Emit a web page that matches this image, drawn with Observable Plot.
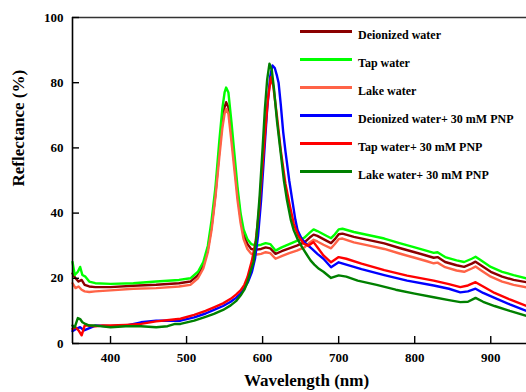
<!DOCTYPE html>
<html><head><meta charset="utf-8">
<script src="https://cdn.jsdelivr.net/npm/d3@7"></script>
<script src="https://cdn.jsdelivr.net/npm/@observablehq/plot@0.6"></script>
<style>
body{margin:0;background:#fff;overflow:hidden;}
#wrap{position:relative;width:526px;height:392px;}
#wrap svg text{font-family:"Liberation Serif",serif;font-weight:bold;}
#legend{position:absolute;left:300px;top:21px;font:bold 12px "Liberation Serif",serif;color:#000;}
.row{height:28px;display:flex;align-items:center;white-space:nowrap;}
.sw{width:52px;height:3px;margin-right:6px;position:relative;top:-4px;}
</style></head><body><div id="wrap"><div id="legend"></div></div>
<script>
const seriesNames = ["Deionized water","Tap water","Lake water","Deionized water+ 30 mM PNP","Tap water+ 30 mM PNP","Lake water+ 30 mM PNP"];
const seriesColors = ["#8b0000","#00ff00","#ff6347","#0000ff","#ff0000","#008000"];

const deionizedWater = [[350,21.5],[354,20],[358,19],[362,19.5],[366,18],[372,17.5],[380,17.3],[400,17.3],[430,17.7],[460,18],[490,18.5],[505,19],[515,21],[522,24],[528,29],[533,36],[538,46],[543,59],[547,68],[550,72.5],[552,74],[555,72.5],[559,64],[563,55],[567,46],[571,38.5],[575,33.5],[580,30.5],[585,29],[592,28.8],[598,29],[604,29.5],[610,29.2],[617,27.5],[625,28.3],[635,29.2],[645,30],[655,31],[662,32.5],[667,33.4],[672,33],[680,32],[690,30.8],[695,32],[700,33.5],[705,33.7],[720,32.7],[740,31.7],[760,30.7],[780,29.3],[800,28],[815,27],[825,26.3],[830,26.5],[840,25],[855,24],[865,23.5],[875,24.5],[880,25.1],[887,24],[900,22],[915,20.5],[930,19.5],[947,18.8]];

const tapWater = [[350,25],[353,21],[357,22],[360,23.5],[363,21],[367,20.5],[372,19],[380,18.5],[400,18.3],[430,18.5],[460,19],[490,19.5],[505,20],[515,22],[522,25],[528,30],[533,38],[538,48],[543,62],[547,72],[550,77],[552,78.5],[555,77],[559,68],[563,58],[567,48],[571,40],[575,35],[580,32],[585,30.5],[592,30],[598,30.3],[604,30.8],[610,30.5],[617,28.5],[625,29.5],[635,30.5],[645,31.5],[655,32.5],[662,34],[667,35],[672,34.5],[680,33.5],[690,32.3],[695,33.5],[700,35],[705,35.2],[720,34.2],[740,33.2],[760,32.2],[780,30.8],[800,29.5],[815,28.5],[825,27.8],[830,28],[840,26.5],[855,25.5],[865,25],[875,26],[880,26.6],[887,25.5],[900,23.5],[915,22],[930,21],[947,20]];

const lakeWater = [[350,18.5],[354,17],[358,17.5],[362,16.5],[366,16],[372,15.8],[380,16],[400,16.3],[430,16.8],[460,17],[490,17.5],[505,18],[515,20],[522,23],[528,28],[533,35],[538,45],[543,57],[547,66],[550,70.5],[552,72],[555,70.5],[559,62],[563,53],[567,44],[571,37],[575,32],[580,29],[585,27.5],[592,27.3],[598,27.5],[604,28],[610,27.7],[617,26],[625,26.8],[635,27.7],[645,28.5],[655,29.5],[662,31],[667,31.8],[672,31.3],[680,30.3],[690,29.2],[695,30.5],[700,32],[705,32.2],[720,31],[740,30],[760,29],[780,27.6],[800,26.3],[815,25.3],[825,24.6],[830,24.8],[840,23.4],[855,22.4],[865,22],[875,23],[880,23.6],[887,22.5],[900,20.5],[915,19],[930,18],[947,17.2]];

const deionizedPNP = [[350,3.8],[355,4.5],[360,5],[365,4],[370,4.5],[380,5.5],[400,5.3],[420,5.5],[440,6.5],[460,7],[480,7],[492,7],[510,8],[525,9.2],[536,10.3],[548,11.5],[558,12.8],[565,14],[571,15.3],[576,17],[581,19],[586,22],[590,26],[594,33],[598,44],[602,58],[606,72],[610,82],[613,85.3],[616,84.5],[619,82],[621,80],[624,73],[627,65],[630,59],[635,50],[639,44],[643,38],[646,34.7],[651,32.3],[657,30.6],[665,29],[672,27.5],[680,26],[690,23.4],[700,24.9],[710,24.2],[730,22.8],[760,21],[790,19.3],[825,17.8],[845,16.8],[860,15.7],[870,16],[880,16.8],[890,15.5],[905,14],[925,12],[947,10]];

const tapPNP = [[350,4.5],[354,5],[358,4],[362,2.5],[366,5.5],[370,5.5],[380,5.3],[390,5.5],[400,5.5],[420,5.7],[440,6],[460,6.8],[480,7.3],[492,7.6],[510,8.8],[525,10],[536,11.1],[548,12.3],[558,13.7],[565,15],[571,16.3],[576,18],[580,20.3],[586,25.5],[591,31.6],[595,40],[599,52],[603,64],[607,75],[611,81.7],[614,79],[619,69.4],[624,59],[630,49],[636,42],[641,36.7],[647,33],[654,30.6],[660,30],[667,31.1],[672,29.5],[680,27],[690,24.9],[700,26.5],[710,26],[730,24.5],[760,22.5],[790,20.8],[825,19.3],[845,18.2],[860,17.3],[870,17.8],[880,18.8],[890,17.5],[905,15.5],[925,13.5],[947,11.5]];

const lakePNP = [[350,5.5],[353,5],[357,7.8],[360,7.5],[363,6.5],[367,6],[372,5.5],[380,5.5],[400,5],[420,5.3],[440,5.3],[460,5],[475,5.3],[485,6],[492,6],[510,7],[525,8.2],[536,9.1],[548,10.3],[558,11.7],[565,13],[571,14.7],[576,16.5],[580,18.8],[584,22],[588,25],[592,33],[596,45],[600,60],[603,72],[606,81],[609,85.8],[612,84],[615,78],[619,68],[624,58],[628,50],[632,44],[637,38],[641,34.7],[646,32],[652,29.5],[658,27.3],[663,25.5],[668,24.2],[674,22.9],[680,22],[690,20.1],[700,20.9],[710,20.5],[725,19.3],[750,18],[775,16.5],[800,15.3],[825,14.2],[845,13.3],[860,12.7],[870,12.8],[880,14],[890,12.8],[905,11.5],[925,10],[947,8.5]];

const yTicks = [0,20,40,60,80,100];
const xTicks = [400,500,600,700,800,900];
const xDomain = [350,947];
const yDomain = [0,100];

const allSeries = [deionizedWater,tapWater,lakeWater,deionizedPNP,tapPNP,lakePNP];
const data = allSeries.flatMap((s,i)=>s.map(([w,r])=>({series:seriesNames[i],w,r})));

const W=526,H=392,mL=72,mR=0,mT=17,mB=49;
const serif='"Liberation Serif", serif';
const chart = Plot.plot({
  width:W,height:H,marginLeft:mL,marginRight:mR,marginTop:mT,marginBottom:mB,
  style:{fontFamily:serif,fontWeight:'bold',fontSize:'13px',background:'#fff',color:'#000'},
  x:{domain:xDomain},
  y:{domain:yDomain},
  color:{domain:seriesNames,range:seriesColors},
  marks:[
    Plot.line(data,{x:"w",y:"r",stroke:"series",z:"series",strokeWidth:2.4}),
    Plot.ruleX([xDomain[0]],{stroke:"#000",strokeWidth:1.6}),
    Plot.ruleY([yDomain[0]],{stroke:"#000",strokeWidth:1.6}),
    Plot.ruleY([yDomain[1]],{stroke:"#333",strokeWidth:1.6}),
    Plot.tickY(yTicks,{y:d=>d,insetRight:W-mL-mR-7,stroke:"#000",strokeWidth:1.4}),
    Plot.tickX(xTicks,{x:d=>d,insetTop:H-mT-mB-7,stroke:"#000",strokeWidth:1.4}),
    Plot.axisY(yTicks,{tickSize:0,tickPadding:9,label:null,fontFamily:serif,fontSize:13,fontWeight:"bold"}),
    Plot.axisX(xTicks,{tickSize:0,tickPadding:9,label:null,fontFamily:serif,fontSize:13,fontWeight:"bold"}),
    Plot.text(["Reflectance (%)"],{text:d=>d,frameAnchor:"left",rotate:-90,dx:-54,dy:6,fontSize:17,fontWeight:"bold",fontFamily:serif}),
    Plot.text(["Wavelength (nm)"],{text:d=>d,frameAnchor:"bottom",dx:7,dy:42,fontSize:17,fontWeight:"bold",fontFamily:serif})
  ]
});
const wrap = document.getElementById("wrap");
wrap.insertBefore(chart, wrap.firstChild);
const legend = document.getElementById("legend");
seriesNames.forEach((n,i)=>{
  const row=document.createElement("div");row.className="row";
  const sw=document.createElement("div");sw.className="sw";sw.style.background=seriesColors[i];
  const t=document.createElement("span");t.textContent=n;
  row.appendChild(sw);row.appendChild(t);legend.appendChild(row);
});
</script></body></html>
